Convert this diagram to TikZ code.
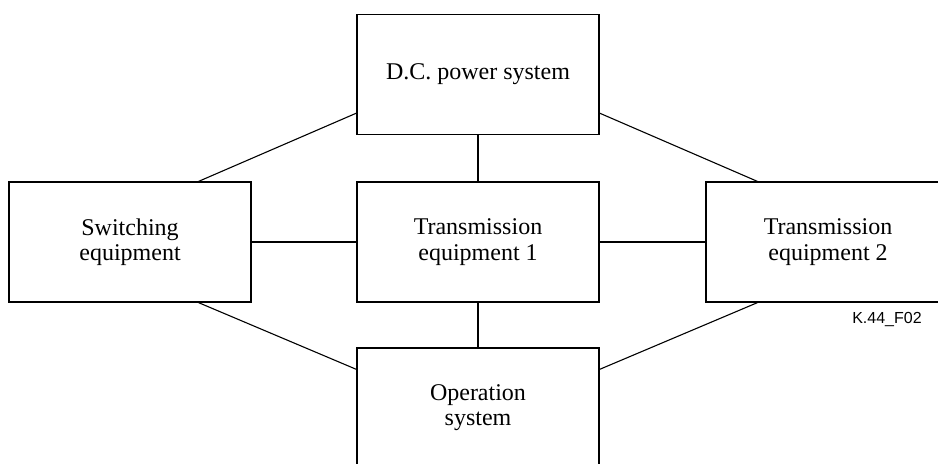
\documentclass[tikz,border=0pt]{standalone}
\usepackage{fontspec}
\setmainfont{Liberation Serif}
\newfontfamily\figfont{Liberation Sans}
\usetikzlibrary{calc}

\tikzset{
  unit/.style={draw, line width=0.65pt, minimum width=121pt, minimum height=60pt,
    align=center, inner sep=0pt, font=\fontsize{12}{12.6}\selectfont},
  link/.style={line width=0.55pt},
  bus/.style={line width=0.85pt}
}

\begin{document}
\begin{tikzpicture}[x=0.5pt, y=-0.5pt]
    \clip (0,0) rectangle (938,463);

    % blocks
    \node[unit] (dc)  at (478,74.5) {D.C. power system};
    \node[unit] (sw)  at (130,242)  {Switching\\equipment};
    \node[unit] (te1) at (478,242)  {Transmission\\equipment 1};
    \node[unit, minimum width=122pt] (te2) at (828,242) {Transmission\\equipment 2};
    \node[unit] (os)  at (478,408)  {Operation\\system};

    % straight links
    \draw[bus] (dc) -- (te1);
    \draw[bus] (te1) -- (os);
    \draw[bus] (sw) -- (te1);
    \draw[bus] (te1) -- (te2);

    % slanted links
    \draw[link] ([yshift=11pt]dc.south west) -- ([xshift=-26.5pt]sw.north east);
    \draw[link] ([yshift=11pt]dc.south east) -- ([xshift=26pt]te2.north west);
    \draw[link] ([xshift=-26.5pt]sw.south east) -- ([yshift=-11pt]os.north west);
    \draw[link] ([xshift=26pt]te2.south west) -- ([yshift=-11pt]os.north east);

    \node[font=\figfont\fontsize{8}{9}\selectfont] (tag) at (887,319) {K.44\_F02};
\end{tikzpicture}
\end{document}
